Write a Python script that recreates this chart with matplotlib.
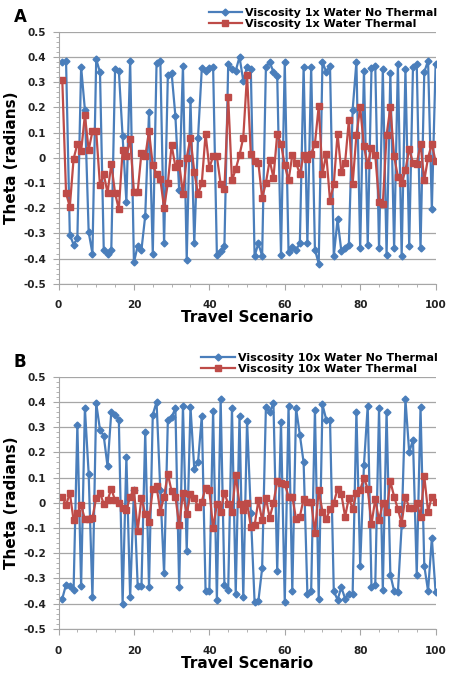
import numpy as np
import matplotlib
matplotlib.use("Agg")
import matplotlib.pyplot as plt
from matplotlib.ticker import MultipleLocator, FuncFormatter

scenario = np.arange(1, 101)

# panel A: viscosity 1x water
a_no_thermal = [
    0.38, 0.385, -0.305, -0.345, -0.32, 0.36, 0.19, -0.295, -0.38, 0.39,
    0.34, -0.365, -0.38, -0.365, 0.35, 0.345, 0.085, -0.175, 0.385, -0.415,
    -0.35, -0.365, -0.23, 0.18, -0.38, 0.375, 0.385, -0.34, 0.33, 0.335,
    0.165, -0.13, 0.365, -0.405, 0.23, -0.34, 0.08, 0.355, 0.345, 0.355,
    0.36, -0.385, -0.37, -0.35, 0.37, 0.35, 0.345, 0.40, 0.305, 0.36,
    0.35, -0.39, -0.34, -0.39, 0.36, 0.38, 0.34, 0.325, -0.385, 0.38,
    -0.375, -0.355, -0.365, -0.34, 0.36, -0.34, 0.36, -0.365, -0.42, 0.38,
    0.34, 0.365, -0.39, -0.245, -0.37, -0.36, -0.345, 0.19, 0.38, -0.36,
    0.345, -0.345, 0.355, 0.365, -0.36, 0.35, -0.385, 0.335, -0.36, 0.37,
    -0.39, 0.35, -0.35, 0.36, 0.37, -0.36, 0.34, 0.385, -0.205, 0.37,
]
a_thermal = [
    0.31, -0.14, -0.195, -0.005, 0.055, 0.025, 0.17, 0.03, 0.105, 0.105,
    -0.11, -0.065, -0.14, -0.025, -0.14, -0.205, 0.03, 0.005, 0.075, -0.135,
    -0.135, 0.02, 0.005, 0.105, -0.03, -0.065, -0.085, -0.2, -0.1, 0.05,
    -0.035, -0.02, -0.145, 0.0, 0.08, -0.055, -0.145, -0.1, 0.095, -0.04,
    0.005, 0.005, -0.105, -0.125, 0.24, -0.09, -0.045, 0.01, 0.08, 0.33,
    0.015, -0.015, -0.02, -0.16, -0.1, -0.01, -0.08, 0.095, 0.055, -0.03,
    -0.09, 0.01, -0.02, -0.065, 0.01, -0.005, 0.015, 0.055, 0.205, -0.065,
    0.015, -0.17, -0.105, 0.095, -0.055, -0.02, 0.15, -0.105, 0.09, 0.2,
    0.045, -0.03, 0.04, 0.01, -0.175, -0.185, 0.09, 0.2, 0.005, -0.075,
    -0.1, -0.05, 0.035, -0.02, -0.025, 0.055, -0.09, 0.0, 0.055, -0.015,
]

# panel B: viscosity 10x water
b_no_thermal = [
    -0.38, -0.325, -0.33, -0.345, 0.31, -0.33, 0.375, 0.115, -0.375, 0.395,
    0.29, 0.265, 0.145, 0.36, 0.35, 0.33, -0.4, 0.18, -0.375, 0.05,
    -0.33, -0.33, 0.28, -0.335, 0.35, 0.40, 0.05, -0.28, 0.33, 0.34,
    0.375, -0.335, 0.385, -0.19, 0.38, 0.135, 0.16, 0.345, -0.35, -0.35,
    0.365, -0.385, 0.41, -0.325, -0.345, 0.375, -0.36, 0.345, -0.375, 0.325,
    -0.04, -0.395, -0.39, -0.26, 0.38, 0.36, 0.395, -0.27, 0.32, -0.395,
    0.385, -0.35, 0.375, 0.27, 0.16, -0.36, -0.35, 0.37, -0.38, 0.39,
    0.33, 0.33, -0.35, -0.385, -0.335, -0.38, -0.36, -0.36, 0.36, -0.25,
    0.15, 0.385, -0.335, -0.325, 0.375, -0.345, 0.36, -0.285, -0.35, -0.355,
    -0.09, 0.41, 0.2, 0.25, -0.285, 0.38, -0.25, -0.35, -0.14, -0.355,
]
b_thermal = [
    0.025, -0.01, 0.04, -0.07, -0.04, -0.01, -0.065, -0.065, -0.06, 0.02,
    0.04, -0.005, 0.01, 0.055, 0.01, 0.0, -0.02, -0.03, 0.025, 0.05,
    -0.11, 0.02, -0.045, -0.075, 0.055, 0.065, -0.035, 0.025, 0.115, 0.045,
    0.025, -0.09, 0.04, -0.045, 0.035, 0.02, -0.015, 0.005, 0.06, 0.05,
    -0.1, -0.005, -0.035, 0.04, -0.005, -0.035, 0.11, -0.005, -0.03, 0.0,
    -0.095, -0.09, 0.01, -0.07, 0.02, -0.06, 0.0, 0.085, 0.08, 0.075,
    0.025, 0.025, -0.065, -0.055, 0.015, 0.005, 0.005, -0.12, 0.05, -0.035,
    -0.065, -0.025, 0.0, 0.055, 0.035, -0.055, 0.02, -0.025, 0.04, 0.05,
    0.1, 0.055, -0.085, 0.015, -0.07, 0.0, -0.035, 0.085, 0.025, -0.025,
    -0.08, 0.025, -0.02, -0.02, 0.0, -0.055, 0.105, -0.035, 0.025, 0.005,
]

blue = '#4A7EBB'
red = '#BE4B48'

fig = plt.figure(figsize=(4.5, 6.74), dpi=100)
panels = [
    ('A', [0.130, 0.579, 0.838, 0.374], a_no_thermal, a_thermal, '1x', 0.975),
    ('B', [0.130, 0.067, 0.838, 0.374], b_no_thermal, b_thermal, '10x', 0.463),
]

for letter, rect, no_th, th, visc, ly in panels:
    ax = fig.add_axes(rect)
    ax.plot(scenario, no_th, color=blue, marker='D', markersize=3.5, lw=1.6,
            label=f'Viscosity {visc} Water No Thermal')
    ax.plot(scenario, th, color=red, marker='s', markersize=5, lw=1.6,
            label=f'Viscosity {visc} Water Thermal')
    ax.set_xlim(0, 100)
    ax.set_ylim(-0.5, 0.5)
    ax.xaxis.set_major_locator(MultipleLocator(20))
    ax.xaxis.set_minor_locator(MultipleLocator(5))
    ax.yaxis.set_major_locator(MultipleLocator(0.1))
    ax.yaxis.set_minor_locator(MultipleLocator(0.02))
    ax.yaxis.set_major_formatter(FuncFormatter(lambda v, p: f'{round(v, 1) + 0:g}'))
    ax.grid(axis='y', color='#A6A6A6', lw=0.9)
    ax.set_axisbelow(True)
    for s in ['top', 'right']:
        ax.spines[s].set_visible(False)
    for s in ['left', 'bottom']:
        ax.spines[s].set_color('#A6A6A6')
    ax.tick_params(which='both', colors='#A6A6A6', labelcolor='#222222',
                   labelsize=7.5)
    ax.tick_params(which='major', length=4, pad=5)
    ax.tick_params(axis='x', which='major', pad=8)
    ax.tick_params(which='minor', length=2)
    for lab in ax.get_xticklabels() + ax.get_yticklabels():
        lab.set_fontweight('bold')
    ax.set_xlabel('Travel Scenario', fontsize=11, fontweight='bold', labelpad=0)
    ax.set_ylabel('Theta (radians)', fontsize=11, fontweight='bold', labelpad=3)
    ax.legend(loc='lower right', bbox_to_anchor=(1.02, 0.99), frameon=False,
              prop={'weight': 'bold', 'size': 8}, handlelength=3.0,
              borderpad=0, labelspacing=0.1, handletextpad=0.3)
    fig.text(0.03, ly, letter, fontsize=12, fontweight='bold', va='center')

fig.savefig('out.png', dpi=100)
